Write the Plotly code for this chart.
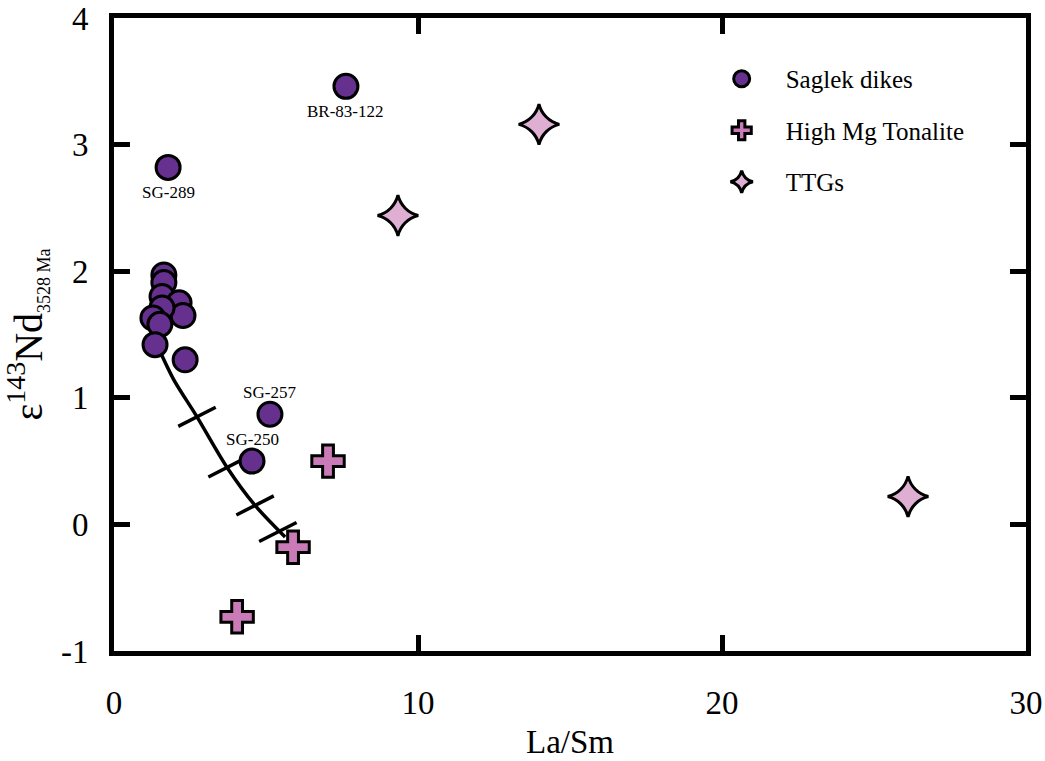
import plotly.graph_objects as go

# ---- data ----
saglek_x = [7.63, 1.78, 5.13, 4.54, 1.64, 1.64, 1.58, 2.14, 2.27, 1.58, 1.28, 1.51, 1.35, 2.34]
saglek_y = [3.46, 2.82, 0.87, 0.50, 1.97, 1.91, 1.80, 1.75, 1.65, 1.71, 1.63, 1.58, 1.42, 1.30]

label_names = ["BR-83-122", "SG-289", "SG-257", "SG-250"]
label_x = [7.63, 1.78, 5.13, 4.54]
label_y = [3.46, 2.82, 0.87, 0.50]

hmg_x = [7.04, 5.89, 4.05]
hmg_y = [0.50, -0.18, -0.73]

ttg_x = [13.98, 9.34, 26.12]
ttg_y = [3.16, 2.44, 0.22]

curve_x = [1.30, 1.95, 2.73, 3.72, 4.64, 5.63]
curve_y = [1.48, 1.15, 0.85, 0.45, 0.15, -0.10]

tick_x = [2.73, 3.72, 4.64, 5.39]
tick_y = [0.85, 0.45, 0.15, -0.06]

x_ticks = [0, 10, 20, 30]
y_ticks = [-1, 0, 1, 2, 3, 4]

FONT = "Liberation Serif"
PURPLE = "#66308f"
PINK = "#c97ab7"
LIGHTPINK = "#dfafd3"

fig = go.Figure()

# mixing curve
fig.add_trace(go.Scatter(x=curve_x, y=curve_y, mode="lines",
                         line=dict(color="black", width=3.5, shape="spline", smoothing=0.8),
                         showlegend=False, hoverinfo="skip"))
# tick marks on the curve
fig.add_trace(go.Scatter(x=tick_x, y=tick_y, mode="markers",
                         marker=dict(symbol="line-ew", size=30, angle=-27,
                                     line=dict(color="black", width=3.5)),
                         showlegend=False, hoverinfo="skip"))

fig.add_trace(go.Scatter(x=saglek_x, y=saglek_y, mode="markers", name="Saglek dikes",
                         legendgroup="a",
                         marker=dict(symbol="circle", size=24, color=PURPLE,
                                     line=dict(color="black", width=3))))
fig.add_trace(go.Scatter(x=hmg_x, y=hmg_y, mode="markers", name="High Mg Tonalite",
                         legendgroup="b",
                         marker=dict(symbol="cross", size=27, color=PINK,
                                     line=dict(color="black", width=3))))
fig.add_trace(go.Scatter(x=ttg_x, y=ttg_y, mode="markers", name="TTGs",
                         legendgroup="c",
                         marker=dict(symbol="star-diamond", size=29, color=LIGHTPINK,
                                     line=dict(color="black", width=3))))

for n, x, y in zip(label_names, label_x, label_y):
    if n in ("SG-257", "SG-250"):
        ys = 22
    else:
        ys = -25
    fig.add_annotation(x=x, y=y, text=n, showarrow=False, yshift=ys,
                       font=dict(family=FONT, size=17, color="black"))

axis_common = dict(showline=True, linewidth=5, linecolor="black", mirror="ticks",
                   ticks="inside", ticklen=16, tickwidth=5, tickcolor="black",
                   showgrid=False, zeroline=False, automargin=False,
                   tickfont=dict(family=FONT, size=33, color="black"))

fig.update_xaxes(range=[0, 30], tickvals=x_ticks, ticktext=[str(v) for v in x_ticks],
                 ticklabelstandoff=18,
                 title=dict(text="La/Sm", font=dict(family=FONT, size=33, color="black"),
                            standoff=12),
                 **axis_common)
fig.update_yaxes(range=[-1, 4], tickvals=y_ticks, ticktext=[str(v) for v in y_ticks],
                 ticklabelstandoff=14,
                 title=dict(text="ε<sup>143</sup>Nd<sub><span style='font-size:18px'>3528 Ma</span></sub>",
                            font=dict(family=FONT, size=40, color="black"),
                            standoff=12),
                 **axis_common)

fig.update_layout(
    width=1045, height=761,
    margin=dict(l=114, r=19, t=18, b=110),
    plot_bgcolor="white", paper_bgcolor="white",
    font=dict(family=FONT, color="black"),
    legend=dict(x=0.640, y=0.94, xanchor="left", yanchor="top",
                font=dict(family=FONT, size=25, color="black"),
                bgcolor="rgba(0,0,0,0)", tracegroupgap=16, itemwidth=78),
)

fig.write_html("out.html")
